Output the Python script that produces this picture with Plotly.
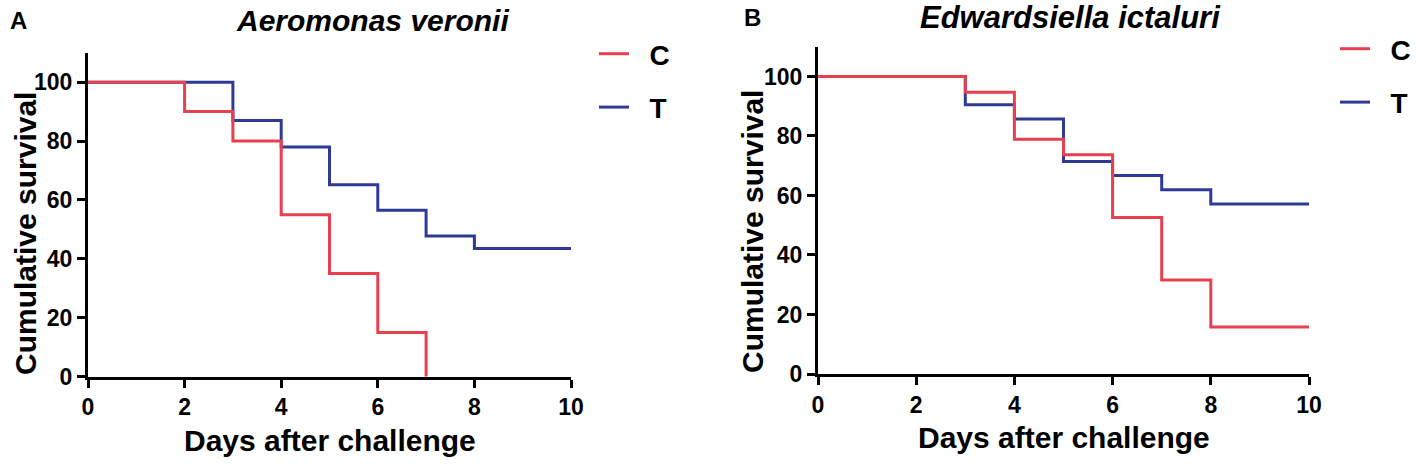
import plotly.graph_objects as go

# Kaplan-Meier steps (day of drop, survival % after drop)
days_a_c = [0, 2, 3, 4, 5, 6, 7]
surv_a_c = [100, 90, 80, 55, 35, 15, 0]
days_a_t = [0, 3, 4, 5, 6, 7, 8, 10]
surv_a_t = [100, 87, 78, 65.2, 56.5, 47.8, 43.5, 43.5]

days_b_c = [0, 3, 4, 5, 6, 7, 8, 10]
surv_b_c = [100, 94.7, 78.9, 73.7, 52.6, 31.6, 15.8, 15.8]
days_b_t = [0, 3, 4, 5, 6, 7, 8, 10]
surv_b_t = [100, 90.5, 85.7, 71.4, 66.7, 61.9, 57.1, 57.1]

x_ticks = [0, 2, 4, 6, 8, 10]
y_ticks = [0, 20, 40, 60, 80, 100]

RED = "rgb(232,64,78)"
BLUE = "rgb(46,58,150)"
FONT = "Liberation Sans, Arial, sans-serif"
W, H = 1417, 464
GAP = "\u00a0\u00a0"  # push legend text a bit away from the line


def px(x):
    return x / W


def py(y):
    return 1 - y / H


fig = go.Figure()


def add_panel(days_c, surv_c, days_t, surv_t, xa, ya, legend):
    # T first so the red C line sits on top where they overlap
    fig.add_trace(go.Scatter(
        x=days_t, y=surv_t, mode="lines", name=GAP + "T", line_shape="hv",
        line=dict(color=BLUE, width=3), xaxis=xa, yaxis=ya,
        legend=legend, legendgroup=legend + "T", legendrank=2,
    ))
    fig.add_trace(go.Scatter(
        x=days_c, y=surv_c, mode="lines", name=GAP + "C", line_shape="hv",
        line=dict(color=RED, width=3), xaxis=xa, yaxis=ya,
        legend=legend, legendgroup=legend + "C", legendrank=1,
    ))


add_panel(days_a_c, surv_a_c, days_a_t, surv_a_t, "x", "y", "legend")
add_panel(days_b_c, surv_b_c, days_b_t, surv_b_t, "x2", "y2", "legend2")

axis_common = dict(
    showgrid=False, zeroline=False, showline=True, linecolor="black",
    linewidth=3, ticks="outside", ticklen=8, tickwidth=3, tickcolor="black",
    automargin=False,
    tickfont=dict(family=FONT, size=23, color="black", weight="bold"),
)

legend_common = dict(
    xanchor="left", yanchor="top", font=dict(size=28, weight="bold"),
    tracegroupgap=14, bgcolor="rgba(0,0,0,0)",
)

fig.update_layout(
    width=W, height=H,
    margin=dict(l=0, r=0, t=0, b=0, autoexpand=False),
    paper_bgcolor="white", plot_bgcolor="white",
    font=dict(family=FONT, color="black"),
    xaxis=dict(domain=[px(88), px(571)], range=[0, 10], tickvals=x_ticks,
               anchor="y", **axis_common),
    yaxis=dict(domain=[py(376.7), py(52.7)], range=[0, 110],
               tickvals=y_ticks, anchor="x", **axis_common),
    xaxis2=dict(domain=[px(818), px(1309)], range=[0, 10], tickvals=x_ticks,
                anchor="y2", **axis_common),
    yaxis2=dict(domain=[py(374), py(46.7)], range=[0, 110],
                tickvals=y_ticks, anchor="x2", **axis_common),
    legend=dict(x=px(594), y=py(29), **legend_common),
    legend2=dict(x=px(1335), y=py(24), **legend_common),
)

bold = dict(family=FONT, color="black", weight="bold")
notes = [
    # panel letters
    dict(x=18, y=20, text="A", size=24),
    dict(x=752, y=17, text="B", size=24),
    # species titles
    dict(x=372, y=21, text="<i>Aeromonas veronii</i>", size=30),
    dict(x=1070, y=17, text="<i>Edwardsiella ictaluri</i>", size=31),
    # axis titles
    dict(x=330, y=440, text="Days after challenge", size=30),
    dict(x=1064, y=437, text="Days after challenge", size=30),
    dict(x=25, y=234, text="Cumulative survival", size=30, angle=-90),
    dict(x=752, y=232, text="Cumulative survival", size=30, angle=-90),
]
for n in notes:
    fig.add_annotation(
        x=px(n["x"]), y=py(n["y"]), xref="paper", yref="paper",
        text=n["text"], showarrow=False, xanchor="center", yanchor="middle",
        textangle=n.get("angle", 0), font=dict(size=n["size"], **bold),
    )

# drop the page's default body margin so the figure sits at the window corner
fig.write_html(
    "out.html",
    config={"displayModeBar": False},
    post_script="document.body.style.margin = '0';",
)
